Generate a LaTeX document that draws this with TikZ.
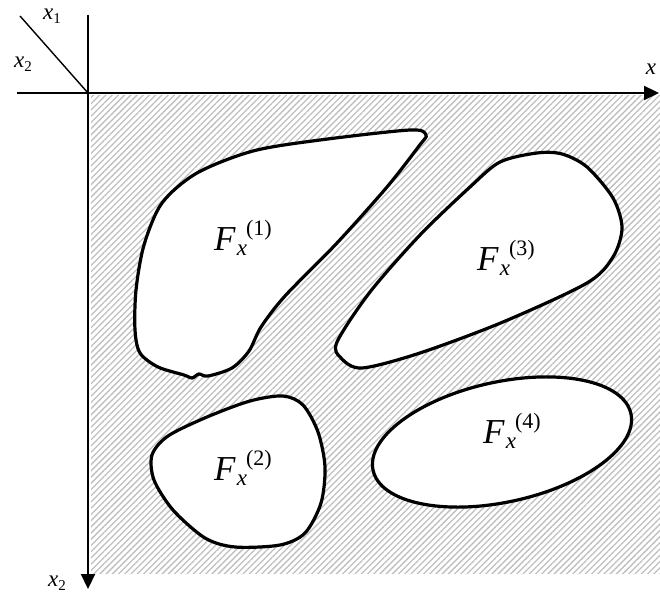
\documentclass[tikz,border=0pt]{standalone}
\usepackage{fontspec}
\setmainfont{Liberation Serif}
\usepackage{tikz}
\usetikzlibrary{arrows.meta, patterns.meta}

% F_x^{(n)} with hand placed indices
\newcommand{\setlbl}[1]{\textit{F}\kern1pt\raisebox{-5pt}{\fontsize{23}{27}\selectfont\textit{x}}\kern-1pt\raisebox{15pt}{\fontsize{22}{26}\selectfont(#1)}}
\newcommand{\axlbl}[1]{\textit{x}\raisebox{-4pt}{\fontsize{15}{17}\selectfont#1}}

\begin{document}
\begin{tikzpicture}[
        x=1pt, y=-1pt,
        axis/.style={line width=2.2pt, -{Triangle[length=15pt, width=14pt]}},
        region/.style={line width=3.2pt, fill=white, smooth cycle},
        setname/.style={font=\fontsize{35}{41}\selectfont},
        axname/.style={font=\fontsize{23}{27}\selectfont}
    ]
        \useasboundingbox (0,0) rectangle (660,593);
        % hatched admissible area
        \fill[pattern={Lines[angle=45, distance=4.4pt, line width=1.3pt]}, pattern color=gray!50]
            (91,96) rectangle (660,573);

        % axes
        \coordinate (o) at (88,93);
        \coordinate (xl) at (17,93);
        \coordinate (xr) at (659,93);
        \coordinate (yt) at (88,15);
        \coordinate (yb) at (88,589);
        \coordinate (dg) at (20,16);
        \draw[axis] (xl) -- (xr);
        \draw[axis] (yt) -- (yb);
        \draw[line width=1.4pt] (dg) -- (o);

        \node[axname] (lx1) at (52,16) {\axlbl{1}};
        \node[axname] (lx2) at (23,64) {\axlbl{2}};
        \node[axname] (lx) at (651,69) {\textit{x}};
        \node[axname] (lx2b) at (57,583) {\axlbl{2}};

        % sets
        \draw[region] plot coordinates {(410,130) (320,140) (253,151) (197,173) (162,203)
            (144,245) (136,290) (135,330) (140,353) (158,367) (184,375) (192,378) (199,374)
            (208,376) (232,368) (249,351) (261,327) (285,296) (337,243) (387,187) (419,146) (426,135)};
        \draw[region] plot coordinates {(537,153) (500,162) (470,187) (420,235) (370,292)
            (337,342) (341,358) (362,368) (420,353) (503,322) (587,283) (613,257) (622,228)
            (613,198) (587,167) (562,154)};
        \draw[region] plot coordinates {(152,455) (168,436) (207,417) (250,401) (283,396)
            (303,405) (318,432) (325,467) (321,503) (305,533) (280,545) (235,547) (205,538)
            (173,510) (154,480)};
        \draw[line width=3.2pt, fill=white] (502,442) ellipse [x radius=132, y radius=60, rotate=12.4];

        \node[setname] (f1) at (243,238) {\setlbl{1}};
        \node[setname] (f2) at (243,468) {\setlbl{2}};
        \node[setname] (f3) at (506,258) {\setlbl{3}};
        \node[setname] (f4) at (512,431) {\setlbl{4}};
    \end{tikzpicture}
\end{document}
